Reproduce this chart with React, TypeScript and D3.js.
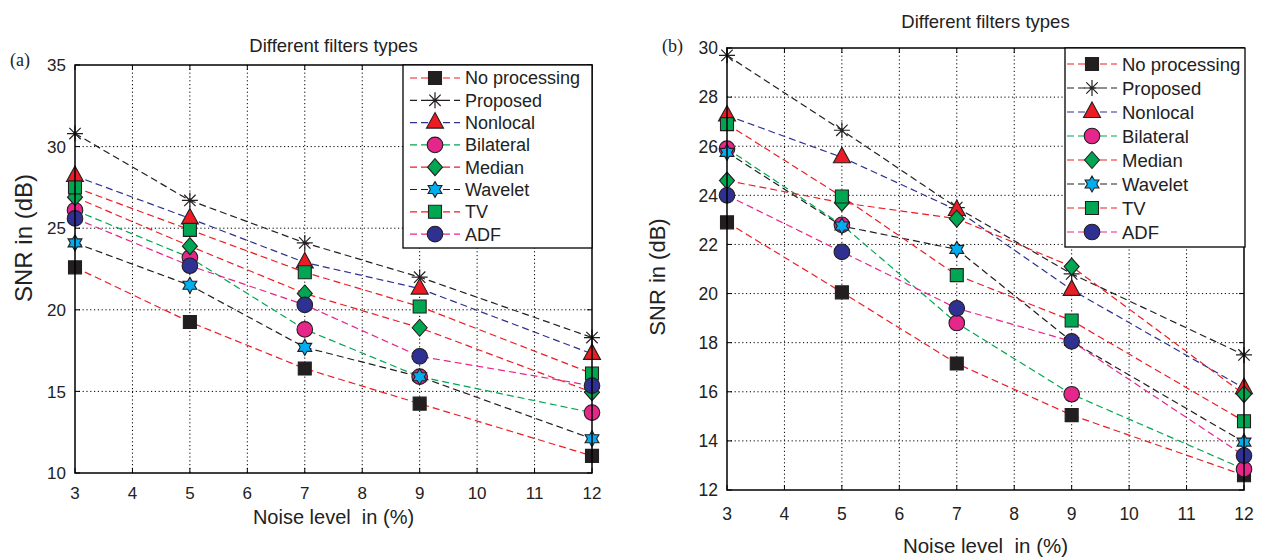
import React from 'react';
import * as d3 from 'd3';

// noise level (%) on the x axis
const noise = [3, 5, 7, 9, 12];
const seriesNames = ['No processing', 'Proposed', 'Nonlocal', 'Bilateral', 'Median', 'Wavelet', 'TV', 'ADF'];

// panel (a) SNR values
const noProcA = [22.6, 19.25, 16.4, 14.25, 11.05];
const proposedA = [30.8, 26.7, 24.1, 22.0, 18.3];
const nonlocalA = [28.2, 25.6, 22.9, 21.3, 17.3];
const bilateralA = [26.1, 23.2, 18.8, 15.9, 13.7];
const medianA = [26.9, 23.9, 21.0, 18.9, 14.95];
const waveletA = [24.1, 21.5, 17.7, 15.9, 12.1];
const tvA = [27.5, 24.9, 22.3, 20.2, 16.1];
const adfA = [25.6, 22.7, 20.3, 17.15, 15.35];

// panel (b) SNR values
const noProcB = [22.9, 20.05, 17.15, 15.05, 12.6];
const proposedB = [29.7, 26.65, 23.5, 20.8, 17.5];
const nonlocalB = [27.25, 25.55, 23.4, 20.15, 16.15];
const bilateralB = [25.9, 22.8, 18.8, 15.9, 12.85];
const medianB = [24.6, 23.7, 23.05, 21.1, 15.9];
const waveletB = [25.75, 22.75, 21.8, 18.05, 13.95];
const tvB = [26.9, 23.95, 20.75, 18.9, 14.8];
const adfB = [24.0, 21.7, 19.4, 18.05, 13.4];

const xTicks = [3, 4, 5, 6, 7, 8, 9, 10, 11, 12];
const yTicksA = [10, 15, 20, 25, 30, 35];
const yTicksB = [12, 14, 16, 18, 20, 22, 24, 26, 28, 30];

const RED = '#ed1c24';
const BLK = '#231f20';
const BLUE = '#2e3192';
const GREEN = '#00a651';
const MAG = '#e6268a';
const CYAN = '#00aeef';

const lineColors = [RED, BLK, BLUE, GREEN, RED, BLK, RED, MAG];
const markerTypes = ['square', 'asterisk', 'triangle', 'circle', 'diamond', 'hexagram', 'square', 'circle'];
const markerFills = [BLK, 'none', RED, MAG, GREEN, CYAN, GREEN, BLUE];

const FONT = '"Liberation Sans", Arial, Helvetica, sans-serif';
const SERIF = '"Liberation Serif", "Times New Roman", serif';

function hexagram(R: number) {
  const r = R / Math.sqrt(3);
  const pts: string[] = [];
  for (let i = 0; i < 12; i++) {
    const a = -Math.PI / 2 + (i * Math.PI) / 6;
    const rr = i % 2 === 0 ? R : r;
    pts.push((rr * Math.cos(a)).toFixed(2) + ',' + (rr * Math.sin(a)).toFixed(2));
  }
  return 'M' + pts.join('L') + 'Z';
}

function Marker({ type, fill, x, y }: any) {
  const t = `translate(${x},${y})`;
  if (type === 'circle') {
    return <circle cx={x} cy={y} r={7.8} fill={fill} stroke={BLK} strokeWidth={1.1} />;
  }
  if (type === 'asterisk') {
    return (
      <path transform={t} d="M-8,0H8M0,-8V8M-5.7,-5.7L5.7,5.7M-5.7,5.7L5.7,-5.7" stroke={BLK} strokeWidth={1.2} fill="none" />
    );
  }
  let d = '';
  if (type === 'square') d = 'M-6.5,-6.5H6.5V6.5H-6.5Z';
  if (type === 'triangle') d = 'M0,-10L8.5,5.5L-8.5,5.5Z';
  if (type === 'diamond') d = 'M0,-8.5L7.5,0L0,8.5L-7.5,0Z';
  if (type === 'hexagram') d = hexagram(8);
  return <path transform={t} d={d} fill={fill} stroke={BLK} strokeWidth={1.1} />;
}

function Panel(props: any) {
  const { left, right, top, bottom, yDomain, yTicks, series, title, titleY, tag, tagX, tagY,
    tickFont, labelFont, titleFont, ylabelX, ylabelY, ylabelFont, xTickY, xLabelY, legend } = props;
  const x = d3.scaleLinear().domain([3, 12]).range([left, right]);
  const y = d3.scaleLinear().domain(yDomain).range([bottom, top]);
  const line = d3.line<number>().x((d, i) => x(noise[i])).y((d) => y(d));
  const cx = (left + right) / 2;

  return (
    <g>
      {/* grid */}
      {xTicks.slice(1, -1).map((t) => (
        <line key={'gx' + t} x1={x(t)} x2={x(t)} y1={top} y2={bottom} stroke="#000" strokeWidth={1} strokeDasharray="1.2,2.6" />
      ))}
      {yTicks.slice(1, -1).map((t: number) => (
        <line key={'gy' + t} x1={left} x2={right} y1={y(t)} y2={y(t)} stroke="#000" strokeWidth={1} strokeDasharray="1.2,2.6" />
      ))}
      {/* ticks */}
      {xTicks.map((t) => (
        <g key={'tx' + t}>
          <line x1={x(t)} x2={x(t)} y1={bottom} y2={bottom - 5} stroke="#000" />
          <line x1={x(t)} x2={x(t)} y1={top} y2={top + 5} stroke="#000" />
          <text x={x(t)} y={xTickY} textAnchor="middle" fontSize={tickFont} fontFamily={FONT} fill="#222">{t}</text>
        </g>
      ))}
      {yTicks.map((t: number) => (
        <g key={'ty' + t}>
          <line x1={left} x2={left + 5} y1={y(t)} y2={y(t)} stroke="#000" />
          <line x1={right} x2={right - 5} y1={y(t)} y2={y(t)} stroke="#000" />
          <text x={left - 9} y={y(t)} dy="0.36em" textAnchor="end" fontSize={tickFont} fontFamily={FONT} fill="#222">{t}</text>
        </g>
      ))}
      {/* series lines */}
      {series.map((vals: number[], i: number) => (
        <path key={'l' + i} d={line(vals) || ''} fill="none" stroke={lineColors[i]} strokeWidth={1.2} strokeDasharray="7,4" />
      ))}
      {/* markers */}
      {series.map((vals: number[], i: number) =>
        vals.map((v, j) => (
          <Marker key={'m' + i + '-' + j} type={markerTypes[i]} fill={markerFills[i]} x={x(noise[j])} y={y(v)} />
        ))
      )}
      {/* frame */}
      <rect x={left} y={top} width={right - left} height={bottom - top} fill="none" stroke="#000" strokeWidth={1.5} />
      {/* legend */}
      <rect x={legend.x0} y={top} width={legend.x1 - legend.x0} height={legend.y1 - top} fill="#fff" stroke="#000" strokeWidth={1.3} />
      {seriesNames.map((name, i) => {
        const ly = legend.row0 + i * legend.step;
        return (
          <g key={'lg' + i}>
            <line x1={legend.l0} x2={legend.l1} y1={ly} y2={ly} stroke={lineColors[i]} strokeWidth={1.2} strokeDasharray="7,4" />
            <Marker type={markerTypes[i]} fill={markerFills[i]} x={(legend.l0 + legend.l1) / 2} y={ly} />
            <text x={legend.tx} y={ly} dy="0.36em" fontSize={legend.font} fontFamily={FONT} fill="#222">{name}</text>
          </g>
        );
      })}
      {/* titles */}
      <text x={cx} y={titleY} textAnchor="middle" fontSize={titleFont} fontFamily={FONT} fill="#222">{title}</text>
      <text x={cx} y={xLabelY} textAnchor="middle" fontSize={labelFont} fontFamily={FONT} fill="#222" style={{ whiteSpace: 'pre' }}>{'Noise level  in (%)'}</text>
      <text transform={`translate(${ylabelX},${ylabelY}) rotate(-90)`} textAnchor="middle" dy="0.36em" fontSize={ylabelFont} fontFamily={FONT} fill="#222">SNR in (dB)</text>
      <text x={tagX} y={tagY} fontSize={18} fontFamily={SERIF} fill="#222">{tag}</text>
    </g>
  );
}

export default function App() {
  const seriesA = [noProcA, proposedA, nonlocalA, bilateralA, medianA, waveletA, tvA, adfA];
  const seriesB = [noProcB, proposedB, nonlocalB, bilateralB, medianB, waveletB, tvB, adfB];
  return (
    <svg width={1261} height={558} style={{ position: 'absolute', left: 0, top: 0, background: '#fff' }}>
      <rect width={1261} height={558} fill="#fff" />
      <Panel
        left={75} right={592} top={65} bottom={473}
        yDomain={[10, 35]} yTicks={yTicksA} series={seriesA}
        title="Different filters types" titleY={52} titleFont={18.5}
        tag="(a)" tagX={10} tagY={66}
        tickFont={17} labelFont={20} xTickY={499} xLabelY={524}
        ylabelX={23} ylabelY={238} ylabelFont={24}
        legend={{ x0: 403, x1: 592, y1: 248, row0: 78, step: 22.3, l0: 410, l1: 460, tx: 465, font: 18 }}
      />
      <Panel
        left={727} right={1244} top={48} bottom={490}
        yDomain={[12, 30]} yTicks={yTicksB} series={seriesB}
        title="Different filters types" titleY={28} titleFont={18.5}
        tag="(b)" tagX={662} tagY={52}
        tickFont={17.5} labelFont={20.5} xTickY={520} xLabelY={553}
        ylabelX={657} ylabelY={277} ylabelFont={22}
        legend={{ x0: 1065, x1: 1245, y1: 247, row0: 64, step: 24, l0: 1067, l1: 1117, tx: 1122, font: 18.5 }}
      />
    </svg>
  );
}
